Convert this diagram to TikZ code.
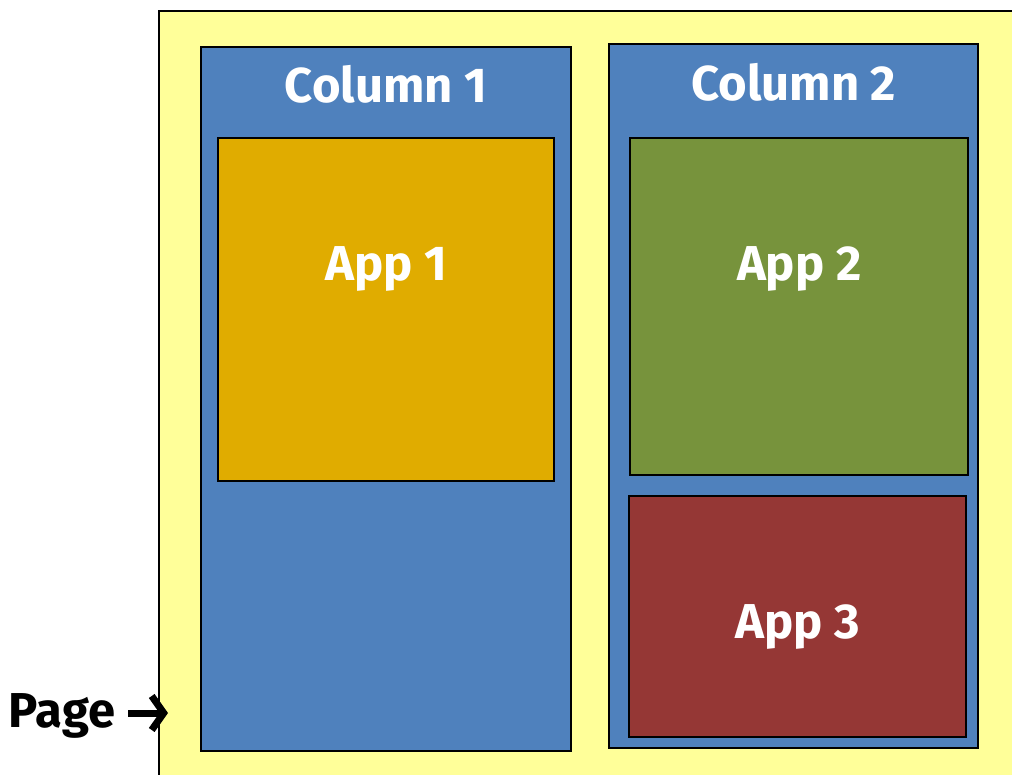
\documentclass[tikz,border=0pt]{standalone}
\usepackage{fontspec}
\setmainfont{Fira Sans}
\usetikzlibrary{positioning,arrows.meta}
\definecolor{vang}{HTML}{FFFF99}
\definecolor{xanh}{HTML}{4F81BD}
\definecolor{cam}{HTML}{E0AC00}
\definecolor{luc}{HTML}{77933C}
\definecolor{nau}{HTML}{953735}
\begin{document}
\begin{tikzpicture}[x=1pt,y=-1pt,
		hop/.style={draw=black,line width=2.4pt,anchor=north west,inner sep=0pt},
		chu/.style={text=white,font=\bfseries\fontsize{49}{58}\selectfont}]
	\useasboundingbox (0,0) rectangle (1012,775);
	% trang
	\begin{scope}
		\clip (0,0) rectangle (1012,775);
		\draw[fill=vang,line width=2.4pt] (159,11) rectangle (1040,800);
	\end{scope}
	% hai cot
	\node[hop,fill=xanh,minimum width=370pt,minimum height=704pt] (cot1) at (200,46) {};
	\node[hop,fill=xanh,minimum width=369pt,minimum height=704pt] (cot2) at (608,43) {};
	\node[chu] (td1) at ([yshift=-38pt]cot1.north) {Column 1};
	\node[chu] (td2) at ([yshift=-39pt]cot2.north) {Column 2};
	% ung dung
	\node[hop,fill=cam,minimum width=336pt,minimum height=343pt] (app1) at (217,137) {};
	\node[hop,fill=luc,minimum width=338pt,minimum height=337pt] (app2) at (629,137) {};
	\node[hop,fill=nau,minimum width=337pt,minimum height=241pt] (app3) at (628,495) {};
	\foreach \i in {1,2,3}
		\node[chu] (ten\i) at ([yshift=-132pt]app\i.north) {App \i};
	% nhan
	\node[font=\bfseries\fontsize{49}{58}\selectfont,outer sep=10pt] (nhan) at (62,716) {Page};
	\coordinate (dich) at (168,713);
	\draw[-{Straight Barb[length=12pt,width=34pt]},line width=7pt] (nhan.east|-dich) -- (dich);
\end{tikzpicture}
\end{document}
